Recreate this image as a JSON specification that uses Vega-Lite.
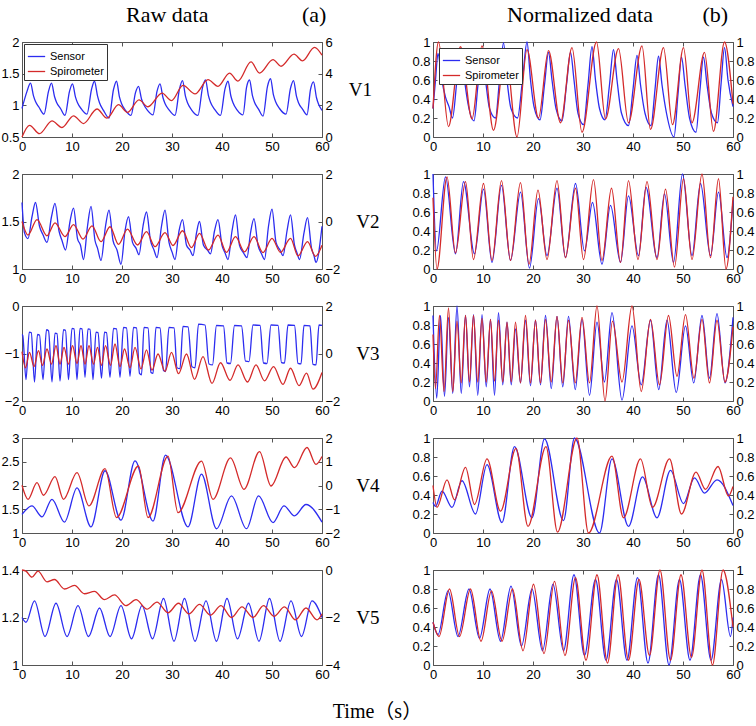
{
"$schema": "https://vega.github.io/schema/vega-lite/v6.json",
"background": "white",
"padding": {"left": 0, "top": 3, "right": 0, "bottom": 0},
"title": {"text": "Time（s）", "orient": "bottom", "anchor": "middle", "fontSize": 20, "offset": 20, "font": "Liberation Serif, Noto Sans CJK SC"},
"datasets": {
"a1S": [{"t":0,"v":0.95},{"t":1,"v":1.22},{"t":1.7,"v":1.35},{"t":2.3,"v":1.15},{"t":2.7,"v":1.06},{"t":3.4,"v":0.97},{"t":4.4,"v":0.86},{"t":5.3,"v":1.22},{"t":5.9,"v":1.35},{"t":6.5,"v":1.14},{"t":6.9,"v":1.05},{"t":7.7,"v":0.95},{"t":8.6,"v":0.84},{"t":9.5,"v":1.22},{"t":10.1,"v":1.34},{"t":10.7,"v":1.13},{"t":11.1,"v":1.04},{"t":11.9,"v":0.94},{"t":13,"v":0.86},{"t":13.9,"v":1.25},{"t":14.5,"v":1.38},{"t":15.1,"v":1.15},{"t":15.5,"v":1.04},{"t":16.3,"v":0.92},{"t":17.4,"v":0.8},{"t":18.3,"v":1.25},{"t":18.9,"v":1.38},{"t":19.5,"v":1.13},{"t":19.9,"v":1.03},{"t":20.7,"v":0.92},{"t":21.8,"v":0.84},{"t":22.7,"v":1.2},{"t":23.3,"v":1.3},{"t":23.9,"v":1.1},{"t":24.3,"v":1.02},{"t":25.1,"v":0.92},{"t":26.2,"v":0.85},{"t":27,"v":1.22},{"t":27.6,"v":1.34},{"t":28.2,"v":1.12},{"t":28.6,"v":1.03},{"t":29.4,"v":0.93},{"t":30.6,"v":0.84},{"t":31.5,"v":1.26},{"t":32.1,"v":1.39},{"t":32.7,"v":1.14},{"t":33.1,"v":1.04},{"t":33.9,"v":0.93},{"t":35.2,"v":0.84},{"t":36.1,"v":1.28},{"t":36.7,"v":1.4},{"t":37.3,"v":1.15},{"t":37.7,"v":1.05},{"t":38.5,"v":0.94},{"t":39.7,"v":0.84},{"t":40.6,"v":1.26},{"t":41.2,"v":1.38},{"t":41.8,"v":1.14},{"t":42.2,"v":1.04},{"t":43,"v":0.93},{"t":44.2,"v":0.85},{"t":44.9,"v":1.28},{"t":45.5,"v":1.4},{"t":46.1,"v":1.15},{"t":46.5,"v":1.05},{"t":47.3,"v":0.94},{"t":48.2,"v":0.83},{"t":49.1,"v":1.3},{"t":49.7,"v":1.42},{"t":50.3,"v":1.16},{"t":50.7,"v":1.06},{"t":51.5,"v":0.95},{"t":52.8,"v":0.86},{"t":53.7,"v":1.27},{"t":54.3,"v":1.39},{"t":54.9,"v":1.14},{"t":55.3,"v":1.04},{"t":56.1,"v":0.94},{"t":57,"v":0.85},{"t":57.7,"v":1.25},{"t":58.3,"v":1.37},{"t":58.9,"v":1.12},{"t":59.3,"v":1.02},{"t":60,"v":0.92}],
"a1R": [{"t":0,"v":0},{"t":1.5,"v":0.74},{"t":3.5,"v":0.21},{"t":6,"v":1.02},{"t":8,"v":0.6},{"t":10.3,"v":1.34},{"t":12.3,"v":0.85},{"t":15,"v":1.77},{"t":17,"v":1.19},{"t":19.3,"v":2.04},{"t":21.1,"v":1.55},{"t":23.4,"v":2.34},{"t":25.2,"v":1.91},{"t":28,"v":2.77},{"t":29.9,"v":2.3},{"t":32.2,"v":3.26},{"t":34.6,"v":2.72},{"t":37.2,"v":3.62},{"t":39.2,"v":3.2},{"t":41.5,"v":4.04},{"t":43.2,"v":3.53},{"t":45.8,"v":4.74},{"t":47.5,"v":4.04},{"t":50.2,"v":4.89},{"t":51.8,"v":4.47},{"t":54.4,"v":5.23},{"t":56.1,"v":4.81},{"t":58.5,"v":5.66},{"t":60,"v":5.17}],
"b1S": [{"t":0,"v":0.3},{"t":0.5,"v":0.6},{"t":1,"v":0.88},{"t":1.7,"v":0.62},{"t":2.5,"v":0.42},{"t":3.2,"v":0.32},{"t":3.9,"v":0.2},{"t":4.8,"v":0.6},{"t":5.6,"v":0.9},{"t":6.3,"v":0.6},{"t":7,"v":0.35},{"t":8.2,"v":0.17},{"t":9,"v":0.55},{"t":9.8,"v":0.88},{"t":10.5,"v":0.6},{"t":11.3,"v":0.3},{"t":12.5,"v":0.2},{"t":13.3,"v":0.6},{"t":14.1,"v":0.99},{"t":14.8,"v":0.6},{"t":15.6,"v":0.3},{"t":16.9,"v":0.2},{"t":17.9,"v":0.6},{"t":18.8,"v":1},{"t":19.5,"v":0.6},{"t":20.2,"v":0.32},{"t":21.4,"v":0.18},{"t":22.3,"v":0.55},{"t":23.1,"v":0.89},{"t":23.8,"v":0.6},{"t":24.6,"v":0.3},{"t":25.8,"v":0.17},{"t":26.7,"v":0.55},{"t":27.5,"v":0.89},{"t":28.2,"v":0.6},{"t":29,"v":0.25},{"t":30.1,"v":0.13},{"t":31,"v":0.55},{"t":31.8,"v":0.95},{"t":32.5,"v":0.6},{"t":33.3,"v":0.3},{"t":34.4,"v":0.18},{"t":35.3,"v":0.55},{"t":36.1,"v":0.92},{"t":36.8,"v":0.6},{"t":37.7,"v":0.25},{"t":39.1,"v":0.12},{"t":40,"v":0.5},{"t":40.8,"v":0.86},{"t":41.5,"v":0.55},{"t":42.4,"v":0.25},{"t":43.6,"v":0.12},{"t":44.4,"v":0.5},{"t":45.1,"v":0.85},{"t":45.8,"v":0.55},{"t":46.7,"v":0.25},{"t":48.2,"v":0},{"t":49,"v":0.45},{"t":49.7,"v":0.84},{"t":50.4,"v":0.55},{"t":51.3,"v":0.2},{"t":52.6,"v":0.05},{"t":53.4,"v":0.5},{"t":54.1,"v":0.84},{"t":54.8,"v":0.55},{"t":55.7,"v":0.25},{"t":56.9,"v":0.15},{"t":57.6,"v":0.55},{"t":58.3,"v":0.94},{"t":59,"v":0.6},{"t":60,"v":0.32}],
"b1R": [{"t":0,"v":0.3},{"t":1.1,"v":1},{"t":3.1,"v":0.11},{"t":5.5,"v":0.95},{"t":7.8,"v":0.19},{"t":9.8,"v":0.96},{"t":12.1,"v":0.07},{"t":14.5,"v":0.9},{"t":16.8,"v":0},{"t":18.8,"v":0.92},{"t":21.1,"v":0.2},{"t":23.1,"v":0.91},{"t":25.5,"v":0.15},{"t":27.8,"v":0.94},{"t":29.8,"v":0.05},{"t":32.7,"v":1},{"t":34.5,"v":0.19},{"t":37.1,"v":0.93},{"t":39.1,"v":0.15},{"t":41.8,"v":0.96},{"t":43.5,"v":0.08},{"t":46.1,"v":0.94},{"t":47.9,"v":0.13},{"t":50.1,"v":0.94},{"t":51.8,"v":0.15},{"t":54.3,"v":0.89},{"t":56.1,"v":0.06},{"t":58.3,"v":1},{"t":60,"v":0.35}],
"a2S": [{"t":0,"v":1.7},{"t":0.5,"v":1.38},{"t":1.2,"v":1.32},{"t":2,"v":1.55},{"t":2.7,"v":1.7},{"t":3.5,"v":1.45},{"t":4.2,"v":1.36},{"t":5,"v":1.28},{"t":5.9,"v":1.55},{"t":6.6,"v":1.69},{"t":7.4,"v":1.4},{"t":8,"v":1.3},{"t":8.7,"v":1.2},{"t":9.6,"v":1.5},{"t":10.3,"v":1.64},{"t":11.1,"v":1.32},{"t":11.7,"v":1.25},{"t":12.3,"v":1.1},{"t":13.1,"v":1.45},{"t":13.8,"v":1.66},{"t":14.6,"v":1.3},{"t":15.1,"v":1.22},{"t":15.8,"v":1.09},{"t":16.7,"v":1.45},{"t":17.4,"v":1.62},{"t":18.2,"v":1.3},{"t":19,"v":1.2},{"t":19.8,"v":1.05},{"t":20.6,"v":1.4},{"t":21.3,"v":1.55},{"t":22.1,"v":1.28},{"t":22.8,"v":1.22},{"t":23.4,"v":1.15},{"t":24.2,"v":1.45},{"t":24.9,"v":1.6},{"t":25.7,"v":1.3},{"t":26.4,"v":1.2},{"t":27,"v":1.12},{"t":27.9,"v":1.45},{"t":28.6,"v":1.62},{"t":29.4,"v":1.28},{"t":30,"v":1.18},{"t":30.6,"v":1.1},{"t":31.4,"v":1.4},{"t":32.1,"v":1.52},{"t":32.9,"v":1.25},{"t":33.6,"v":1.2},{"t":34.2,"v":1.14},{"t":34.9,"v":1.38},{"t":35.5,"v":1.5},{"t":36.3,"v":1.25},{"t":37.1,"v":1.2},{"t":37.7,"v":1.16},{"t":38.5,"v":1.4},{"t":39.2,"v":1.52},{"t":40,"v":1.25},{"t":40.6,"v":1.17},{"t":41.2,"v":1.1},{"t":42,"v":1.4},{"t":42.7,"v":1.57},{"t":43.5,"v":1.25},{"t":44.3,"v":1.17},{"t":45,"v":1.12},{"t":45.7,"v":1.38},{"t":46.4,"v":1.53},{"t":47.2,"v":1.25},{"t":47.9,"v":1.16},{"t":48.5,"v":1.1},{"t":49.3,"v":1.45},{"t":50,"v":1.63},{"t":50.8,"v":1.28},{"t":51.6,"v":1.2},{"t":52.2,"v":1.14},{"t":53,"v":1.4},{"t":53.7,"v":1.57},{"t":54.5,"v":1.25},{"t":55,"v":1.17},{"t":55.5,"v":1.1},{"t":56.4,"v":1.38},{"t":57.1,"v":1.54},{"t":57.9,"v":1.22},{"t":58.4,"v":1.14},{"t":58.8,"v":1.07},{"t":60,"v":1.45}],
"a2R": [{"t":0,"v":0},{"t":1.2,"v":-0.57},{"t":3,"v":0.08},{"t":5,"v":-0.6},{"t":6.6,"v":-0.06},{"t":8.6,"v":-0.64},{"t":10.3,"v":-0.13},{"t":12.2,"v":-0.74},{"t":14,"v":-0.18},{"t":15.8,"v":-0.85},{"t":17.6,"v":-0.22},{"t":19.3,"v":-0.96},{"t":21.1,"v":-0.32},{"t":23.1,"v":-0.99},{"t":24.9,"v":-0.43},{"t":26.6,"v":-1.06},{"t":28.6,"v":-0.47},{"t":30.2,"v":-1.01},{"t":32.1,"v":-0.39},{"t":33.9,"v":-1.1},{"t":35.5,"v":-0.5},{"t":37.3,"v":-1.2},{"t":39.2,"v":-0.57},{"t":40.9,"v":-1.3},{"t":42.7,"v":-0.64},{"t":44.5,"v":-1.28},{"t":46.4,"v":-0.64},{"t":48.2,"v":-1.31},{"t":50,"v":-0.71},{"t":51.7,"v":-1.3},{"t":53.7,"v":-0.71},{"t":55.2,"v":-1.45},{"t":57.1,"v":-0.85},{"t":58.7,"v":-1.47},{"t":60,"v":-1}],
"b2S": [{"t":0,"v":1},{"t":0.7,"v":0.19},{"t":2.5,"v":0.97},{"t":4.5,"v":0.16},{"t":6.1,"v":0.92},{"t":8.3,"v":0.16},{"t":10.1,"v":0.84},{"t":11.8,"v":0.07},{"t":13.7,"v":0.88},{"t":15.5,"v":0.09},{"t":17.5,"v":0.81},{"t":19.3,"v":0.01},{"t":21.1,"v":0.74},{"t":22.8,"v":0.14},{"t":24.8,"v":0.85},{"t":26.5,"v":0.12},{"t":28.5,"v":0.9},{"t":30.3,"v":0.19},{"t":31.9,"v":0.7},{"t":33.8,"v":0.05},{"t":35.5,"v":0.67},{"t":37.5,"v":0.07},{"t":39.1,"v":0.77},{"t":41.1,"v":0.14},{"t":42.6,"v":0.86},{"t":44.8,"v":0.12},{"t":46.3,"v":0.79},{"t":48.1,"v":0.07},{"t":49.9,"v":1},{"t":51.8,"v":0.14},{"t":53.5,"v":0.9},{"t":55.5,"v":0.14},{"t":57.1,"v":0.81},{"t":58.8,"v":0.12},{"t":60,"v":0.72}],
"b2R": [{"t":0,"v":0.75},{"t":0.8,"v":0},{"t":2.8,"v":0.97},{"t":4.5,"v":0.17},{"t":6.5,"v":0.92},{"t":8.1,"v":0.1},{"t":10.1,"v":0.9},{"t":11.8,"v":0.09},{"t":13.7,"v":0.93},{"t":15.5,"v":0.09},{"t":17.5,"v":0.91},{"t":19.2,"v":0.05},{"t":21,"v":0.83},{"t":22.8,"v":0.1},{"t":24.8,"v":0.93},{"t":26.5,"v":0.12},{"t":28.5,"v":0.85},{"t":30.1,"v":0.1},{"t":32.1,"v":0.94},{"t":33.8,"v":0.09},{"t":35.7,"v":0.85},{"t":37.5,"v":0.07},{"t":39.1,"v":0.93},{"t":41,"v":0.1},{"t":42.8,"v":0.92},{"t":44.8,"v":0.1},{"t":46.5,"v":0.84},{"t":48.3,"v":0.02},{"t":50.1,"v":0.95},{"t":51.8,"v":0.1},{"t":53.8,"v":1},{"t":55.5,"v":0.12},{"t":57.1,"v":0.95},{"t":58.6,"v":0},{"t":60,"v":0.76}],
"a3S": [{"t":0,"v":-0.6},{"t":0.15,"v":-0.62},{"t":0.8,"v":-1.55},{"t":1.45,"v":-0.55},{"t":1.85,"v":-0.56},{"t":2.5,"v":-1.6},{"t":3.1,"v":-0.6},{"t":3.5,"v":-0.61},{"t":4.2,"v":-1.55},{"t":4.9,"v":-0.5},{"t":5.3,"v":-0.52},{"t":6,"v":-1.6},{"t":6.6,"v":-0.57},{"t":7,"v":-0.58},{"t":7.6,"v":-1.58},{"t":8.3,"v":-0.5},{"t":8.7,"v":-0.51},{"t":9.3,"v":-1.55},{"t":10,"v":-0.47},{"t":10.4,"v":-0.48},{"t":11,"v":-1.55},{"t":11.6,"v":-0.47},{"t":12,"v":-0.48},{"t":12.6,"v":-1.5},{"t":13.2,"v":-0.48},{"t":13.6,"v":-0.49},{"t":14.2,"v":-1.55},{"t":14.8,"v":-0.55},{"t":15.2,"v":-0.56},{"t":15.9,"v":-1.52},{"t":16.5,"v":-0.55},{"t":16.9,"v":-0.56},{"t":17.6,"v":-1.5},{"t":18.3,"v":-0.47},{"t":18.9,"v":-0.48},{"t":19.6,"v":-1.5},{"t":20.3,"v":-0.45},{"t":20.9,"v":-0.46},{"t":21.6,"v":-1.48},{"t":22.3,"v":-0.45},{"t":22.9,"v":-0.46},{"t":23.5,"v":-1.42},{"t":23.9,"v":-1.45},{"t":24.4,"v":-0.45},{"t":25.2,"v":-0.46},{"t":25.8,"v":-1.4},{"t":26.2,"v":-1.42},{"t":26.8,"v":-0.45},{"t":27.6,"v":-0.46},{"t":28.3,"v":-1.36},{"t":28.7,"v":-1.38},{"t":29.4,"v":-0.45},{"t":30.4,"v":-0.46},{"t":31,"v":-1.3},{"t":31.6,"v":-1.32},{"t":32.2,"v":-0.43},{"t":33.2,"v":-0.44},{"t":34,"v":-1.28},{"t":34.6,"v":-1.3},{"t":35.3,"v":-0.38},{"t":36.6,"v":-0.4},{"t":37.4,"v":-1.22},{"t":38.1,"v":-1.24},{"t":38.9,"v":-0.41},{"t":40.3,"v":-0.42},{"t":41,"v":-1.2},{"t":41.7,"v":-1.21},{"t":42.5,"v":-0.41},{"t":43.9,"v":-0.42},{"t":44.7,"v":-1.16},{"t":45.4,"v":-1.17},{"t":46.2,"v":-0.4},{"t":47.6,"v":-0.41},{"t":48.3,"v":-1.2},{"t":49,"v":-1.21},{"t":49.8,"v":-0.4},{"t":51.2,"v":-0.41},{"t":51.9,"v":-1.19},{"t":52.5,"v":-1.2},{"t":53.2,"v":-0.4},{"t":54.5,"v":-0.41},{"t":55.2,"v":-1.21},{"t":55.8,"v":-1.22},{"t":56.4,"v":-0.41},{"t":57.6,"v":-0.42},{"t":58.2,"v":-1.23},{"t":58.8,"v":-1.24},{"t":59.4,"v":-0.4},{"t":60,"v":-0.41}],
"a3R": [{"t":0,"v":0.08},{"t":0.7,"v":-0.6},{"t":1.5,"v":0.05},{"t":2.4,"v":-0.55},{"t":3.3,"v":0.12},{"t":4.1,"v":-0.5},{"t":5,"v":0.19},{"t":5.9,"v":-0.45},{"t":6.8,"v":0.33},{"t":7.6,"v":-0.45},{"t":8.4,"v":0.26},{"t":9.3,"v":-0.45},{"t":10.1,"v":0.33},{"t":11,"v":-0.42},{"t":11.8,"v":0.33},{"t":12.6,"v":-0.45},{"t":13.4,"v":0.33},{"t":14.3,"v":-0.45},{"t":15.1,"v":0.26},{"t":15.9,"v":-0.5},{"t":16.7,"v":0.33},{"t":17.7,"v":-0.5},{"t":18.6,"v":0.4},{"t":19.6,"v":-0.55},{"t":20.5,"v":0.19},{"t":21.6,"v":-0.6},{"t":22.6,"v":0.26},{"t":23.8,"v":-0.65},{"t":24.9,"v":0.15},{"t":26,"v":-0.7},{"t":27.2,"v":-0.02},{"t":28.6,"v":-0.75},{"t":29.9,"v":0.05},{"t":31.3,"v":-0.85},{"t":32.9,"v":-0.02},{"t":34.5,"v":-1.09},{"t":36.2,"v":-0.13},{"t":38,"v":-1.26},{"t":39.7,"v":-0.39},{"t":41.6,"v":-1.13},{"t":43.2,"v":-0.48},{"t":45.1,"v":-1.2},{"t":46.8,"v":-0.48},{"t":48.5,"v":-1.15},{"t":50.3,"v":-0.55},{"t":52.2,"v":-1.3},{"t":53.7,"v":-0.62},{"t":55.4,"v":-1.35},{"t":56.9,"v":-0.83},{"t":58.2,"v":-1.5},{"t":60,"v":-0.8}],
"b3S": [{"t":0,"v":0.9},{"t":0.75,"v":0.03},{"t":1.5,"v":0.9},{"t":2.3,"v":0.05},{"t":3.1,"v":0.88},{"t":3.95,"v":0.08},{"t":4.8,"v":1},{"t":5.65,"v":0.08},{"t":6.5,"v":0.9},{"t":7.3,"v":0.15},{"t":8.1,"v":0.91},{"t":8.95,"v":0.06},{"t":9.8,"v":0.91},{"t":10.65,"v":0.15},{"t":11.5,"v":0.86},{"t":12.3,"v":0.06},{"t":13.1,"v":0.93},{"t":13.95,"v":0.17},{"t":14.8,"v":0.83},{"t":15.65,"v":0.17},{"t":16.5,"v":0.76},{"t":17.5,"v":0.19},{"t":18.5,"v":0.85},{"t":19.5,"v":0.16},{"t":20.5,"v":0.85},{"t":21.5,"v":0.17},{"t":22.5,"v":0.9},{"t":23.65,"v":0.13},{"t":24.8,"v":0.89},{"t":25.95,"v":0.15},{"t":27.1,"v":0.89},{"t":28.45,"v":0.12},{"t":29.8,"v":0.86},{"t":31.3,"v":0.06},{"t":32.8,"v":0.83},{"t":34.3,"v":0.2},{"t":35.8,"v":0.93},{"t":37.8,"v":0.01},{"t":39.8,"v":0.79},{"t":41.65,"v":0.17},{"t":43.5,"v":0.85},{"t":45.15,"v":0.12},{"t":46.8,"v":0.85},{"t":48.65,"v":0.09},{"t":50.5,"v":0.79},{"t":52.15,"v":0.19},{"t":53.8,"v":0.9},{"t":55.3,"v":0.24},{"t":56.8,"v":0.92},{"t":58.4,"v":0.19},{"t":60,"v":0.88}],
"b3R": [{"t":0,"v":0.7},{"t":0.5,"v":0.13},{"t":1.3,"v":0.9},{"t":2.2,"v":0.1},{"t":3.1,"v":0.98},{"t":3.95,"v":0.1},{"t":4.8,"v":0.84},{"t":5.65,"v":0.19},{"t":6.5,"v":0.9},{"t":7.3,"v":0.2},{"t":8.1,"v":0.9},{"t":8.95,"v":0.2},{"t":9.8,"v":0.87},{"t":10.65,"v":0.2},{"t":11.5,"v":0.86},{"t":12.3,"v":0.21},{"t":13.1,"v":0.85},{"t":13.95,"v":0.2},{"t":14.8,"v":0.83},{"t":15.65,"v":0.2},{"t":16.5,"v":0.83},{"t":17.5,"v":0.19},{"t":18.5,"v":0.9},{"t":19.5,"v":0.19},{"t":20.5,"v":0.85},{"t":21.5,"v":0.19},{"t":22.5,"v":0.86},{"t":23.65,"v":0.2},{"t":24.8,"v":0.89},{"t":25.95,"v":0.19},{"t":27.1,"v":0.85},{"t":28.45,"v":0.19},{"t":29.8,"v":0.88},{"t":31.3,"v":0.19},{"t":32.8,"v":1},{"t":34.4,"v":0},{"t":35.9,"v":0.84},{"t":37.8,"v":0.2},{"t":39.8,"v":1},{"t":41.65,"v":0.1},{"t":43.5,"v":0.86},{"t":45.3,"v":0.17},{"t":47.1,"v":0.9},{"t":48.8,"v":0.26},{"t":50.5,"v":0.91},{"t":52.2,"v":0.24},{"t":53.8,"v":0.86},{"t":55.3,"v":0.19},{"t":56.8,"v":0.85},{"t":58.4,"v":0.2},{"t":60,"v":0.78}],
"a4S": [{"t":0,"v":1.39},{"t":2,"v":1.57},{"t":4,"v":1.34},{"t":6,"v":1.71},{"t":8.5,"v":1.23},{"t":11,"v":1.95},{"t":13.8,"v":1.13},{"t":16.6,"v":2.31},{"t":19.8,"v":1.27},{"t":22.6,"v":2.52},{"t":26.2,"v":1.25},{"t":28.7,"v":2.64},{"t":33.2,"v":1.13},{"t":35.9,"v":2.24},{"t":38.9,"v":1.09},{"t":41.9,"v":1.78},{"t":44.9,"v":1.09},{"t":47.3,"v":1.78},{"t":50.2,"v":1.22},{"t":52.4,"v":1.57},{"t":54.5,"v":1.36},{"t":56.8,"v":1.6},{"t":60,"v":1.23}],
"a4R": [{"t":0,"v":0.01},{"t":1.2,"v":-0.58},{"t":3,"v":0.12},{"t":4.3,"v":-0.41},{"t":6.6,"v":0.37},{"t":8.3,"v":-0.58},{"t":11,"v":0.54},{"t":13.4,"v":-0.86},{"t":16.6,"v":0.71},{"t":18.9,"v":-1.35},{"t":23.3,"v":0.82},{"t":25.2,"v":-1.35},{"t":29.2,"v":1.24},{"t":31.2,"v":-1.14},{"t":35.9,"v":1.03},{"t":38.2,"v":-0.58},{"t":41.7,"v":1.16},{"t":44.4,"v":-0.16},{"t":47.5,"v":1.43},{"t":49.8,"v":-0.02},{"t":52.8,"v":1.2},{"t":54.5,"v":0.75},{"t":57,"v":1.6},{"t":58.8,"v":0.89},{"t":60,"v":1.22}],
"b4S": [{"t":0,"v":0.32},{"t":0.5,"v":0.28},{"t":1.8,"v":0.44},{"t":3.8,"v":0.27},{"t":5.8,"v":0.55},{"t":8.5,"v":0.2},{"t":10.8,"v":0.72},{"t":13.8,"v":0.11},{"t":16.3,"v":0.91},{"t":19.8,"v":0.16},{"t":22.3,"v":0.99},{"t":26.1,"v":0.13},{"t":28.3,"v":1},{"t":33.3,"v":0},{"t":35.8,"v":0.78},{"t":39.1,"v":0.07},{"t":41.9,"v":0.59},{"t":44.8,"v":0.16},{"t":47.5,"v":0.66},{"t":50.1,"v":0.31},{"t":52.3,"v":0.58},{"t":54.3,"v":0.42},{"t":56.8,"v":0.56},{"t":60,"v":0.29}],
"b4R": [{"t":0,"v":0.5},{"t":0.8,"v":0.27},{"t":2.8,"v":0.56},{"t":4.3,"v":0.35},{"t":6.5,"v":0.69},{"t":8.3,"v":0.3},{"t":10.8,"v":0.78},{"t":13.5,"v":0.23},{"t":16.6,"v":0.89},{"t":19,"v":0.07},{"t":22.6,"v":0.91},{"t":24.9,"v":0.01},{"t":28.8,"v":1},{"t":31.1,"v":0},{"t":35.8,"v":0.81},{"t":38.1,"v":0.16},{"t":41.5,"v":0.78},{"t":43.9,"v":0.27},{"t":47.3,"v":0.78},{"t":49.7,"v":0.2},{"t":52.6,"v":0.64},{"t":54.5,"v":0.46},{"t":57,"v":0.7},{"t":59.1,"v":0.39},{"t":60,"v":0.49}],
"a5S": [{"t":0,"v":1.2},{"t":0.8,"v":1.18},{"t":2.5,"v":1.27},{"t":4.6,"v":1.12},{"t":6.8,"v":1.26},{"t":9,"v":1.12},{"t":11.2,"v":1.25},{"t":13.3,"v":1.12},{"t":15.5,"v":1.24},{"t":17.6,"v":1.12},{"t":19.8,"v":1.25},{"t":21.9,"v":1.11},{"t":24,"v":1.25},{"t":26.1,"v":1.11},{"t":28.3,"v":1.28},{"t":30.4,"v":1.1},{"t":32.5,"v":1.28},{"t":34.6,"v":1.1},{"t":36.8,"v":1.27},{"t":38.9,"v":1.1},{"t":41,"v":1.28},{"t":43.1,"v":1.11},{"t":45.3,"v":1.26},{"t":47.4,"v":1.1},{"t":49.5,"v":1.28},{"t":51.6,"v":1.1},{"t":53.8,"v":1.27},{"t":55.9,"v":1.12},{"t":58,"v":1.27},{"t":60,"v":1.2}],
"a5R": [{"t":0,"v":0},{"t":0.8,"v":-0.05},{"t":2,"v":-0.3},{"t":3.2,"v":-0.05},{"t":5,"v":-0.5},{"t":6.5,"v":-0.4},{"t":8.5,"v":-0.8},{"t":10.5,"v":-0.65},{"t":12.5,"v":-1},{"t":14.5,"v":-0.9},{"t":16.5,"v":-1.25},{"t":18.5,"v":-1.05},{"t":20.8,"v":-1.5},{"t":22.8,"v":-1.25},{"t":25,"v":-1.65},{"t":27,"v":-1.35},{"t":29.2,"v":-1.8},{"t":31.3,"v":-1.4},{"t":33.4,"v":-1.85},{"t":35.5,"v":-1.45},{"t":37.7,"v":-1.9},{"t":39.8,"v":-1.5},{"t":41.9,"v":-2},{"t":44,"v":-1.55},{"t":46.2,"v":-2},{"t":48.3,"v":-1.5},{"t":50.4,"v":-1.95},{"t":52.5,"v":-1.55},{"t":54.7,"v":-2.1},{"t":56.8,"v":-1.6},{"t":59,"v":-2.1},{"t":60,"v":-1.85}],
"b5S": [{"t":0,"v":0.45},{"t":1,"v":0.32},{"t":3,"v":0.78},{"t":5,"v":0.3},{"t":7.2,"v":0.8},{"t":9.3,"v":0.28},{"t":11.4,"v":0.8},{"t":13.5,"v":0.25},{"t":15.6,"v":0.83},{"t":17.7,"v":0.2},{"t":19.8,"v":0.8},{"t":21.9,"v":0.15},{"t":24,"v":0.85},{"t":26.1,"v":0.15},{"t":28.2,"v":0.95},{"t":30.3,"v":0.1},{"t":32.5,"v":0.9},{"t":34.6,"v":0.05},{"t":36.7,"v":0.9},{"t":38.8,"v":0.05},{"t":40.9,"v":0.92},{"t":43,"v":0.02},{"t":45.1,"v":0.95},{"t":47.2,"v":0},{"t":49.3,"v":0.9},{"t":51.4,"v":0.05},{"t":53.5,"v":0.95},{"t":55.6,"v":0.05},{"t":57.7,"v":0.9},{"t":59.5,"v":0.3},{"t":60,"v":0.5}],
"b5R": [{"t":0,"v":0.45},{"t":1.2,"v":0.3},{"t":3.3,"v":0.8},{"t":5.3,"v":0.3},{"t":7.5,"v":0.8},{"t":9.6,"v":0.25},{"t":11.7,"v":0.78},{"t":13.8,"v":0.25},{"t":15.9,"v":0.8},{"t":18,"v":0.15},{"t":20.1,"v":0.85},{"t":22.2,"v":0.12},{"t":24.3,"v":0.88},{"t":26.4,"v":0.1},{"t":28.5,"v":0.92},{"t":30.6,"v":0.05},{"t":32.8,"v":0.95},{"t":34.9,"v":0.02},{"t":37,"v":0.95},{"t":39.1,"v":0.05},{"t":41.2,"v":0.9},{"t":43.3,"v":0.1},{"t":45.4,"v":1},{"t":47.5,"v":0.05},{"t":49.6,"v":0.95},{"t":51.7,"v":0.08},{"t":53.8,"v":1},{"t":55.9,"v":0},{"t":58,"v":1},{"t":60,"v":0.4}]
},
"columns": 2,
"bounds": "flush",
"spacing": {"row": 37, "column": 111},
"concat": [
{"width":300,"height":95,"title":{"text":"Raw data\u00a0\u00a0\u00a0\u00a0\u00a0\u00a0\u00a0\u00a0\u00a0\u00a0\u00a0\u00a0\u00a0\u00a0\u00a0\u00a0\u00a0(a)","anchor":"start","frame":"group","dx":104,"offset":9},"layer":[
{"data":{"name":"a1S"},"mark":"line","encoding":{"x":{"field":"t","type":"quantitative","scale":{"domain":[0,60],"nice":false},"axis":{"values":[0,10,20,30,40,50,60],"title":null}},"y":{"field":"v","type":"quantitative","scale":{"domain":[0.5,2],"nice":false},"axis":{"values":[0.5,1,1.5,2],"title":null}},"color":{"datum":"Sensor","scale":{"domain":["Sensor","Spirometer"],"range":["#2c2cf0","#d42a2a"]},"legend":{"orient":"top-left","offset":2}}}},
{"data":{"name":"a1R"},"mark":"line","encoding":{"x":{"field":"t","type":"quantitative","scale":{"domain":[0,60],"nice":false},"axis":{"orient":"top","labels":false,"values":[0,10,20,30,40,50,60],"title":null}},"y":{"field":"v","type":"quantitative","scale":{"domain":[0,6],"nice":false},"axis":{"orient":"right","values":[0,2,4,6],"title":"V1"}},"color":{"datum":"Spirometer","legend":{"orient":"top-left","offset":2}}}}
],"resolve":{"scale":{"y":"independent"},"axis":{"x":"independent"}}},
{"width":300,"height":95,"title":{"text":"Normalized data\u00a0\u00a0\u00a0\u00a0\u00a0\u00a0\u00a0\u00a0\u00a0(b)","anchor":"start","frame":"group","dx":74,"offset":9},"layer":[
{"data":{"name":"b1S"},"mark":"line","encoding":{"x":{"field":"t","type":"quantitative","scale":{"domain":[0,60],"nice":false},"axis":{"values":[0,10,20,30,40,50,60],"title":null}},"y":{"field":"v","type":"quantitative","scale":{"domain":[0,1],"nice":false},"axis":{"values":[0,0.2,0.4,0.6,0.8,1],"title":null}},"color":{"datum":"Sensor","scale":{"domain":["Sensor","Spirometer"],"range":["#2c2cf0","#d42a2a"]},"legend":{"orient":"top-left","offset":6}}}},
{"data":{"name":"b1R"},"mark":"line","encoding":{"x":{"field":"t","type":"quantitative","scale":{"domain":[0,60],"nice":false},"axis":{"orient":"top","labels":false,"values":[0,10,20,30,40,50,60],"title":null}},"y":{"field":"v","type":"quantitative","scale":{"domain":[0,1],"nice":false},"axis":{"orient":"right","values":[0,0.2,0.4,0.6,0.8,1],"title":null}},"color":{"datum":"Spirometer","legend":{"orient":"top-left","offset":6}}}}
],"resolve":{"scale":{"y":"independent"},"axis":{"x":"independent"}}},
{"width":300,"height":95,"layer":[
{"data":{"name":"a2S"},"mark":"line","encoding":{"x":{"field":"t","type":"quantitative","scale":{"domain":[0,60],"nice":false},"axis":{"values":[0,10,20,30,40,50,60],"title":null}},"y":{"field":"v","type":"quantitative","scale":{"domain":[1,2],"nice":false},"axis":{"values":[1,1.5,2],"title":null}},"color":{"datum":"Sensor","scale":{"domain":["Sensor","Spirometer"],"range":["#2c2cf0","#d42a2a"]},"legend":null}}},
{"data":{"name":"a2R"},"mark":"line","encoding":{"x":{"field":"t","type":"quantitative","scale":{"domain":[0,60],"nice":false},"axis":{"orient":"top","labels":false,"values":[0,10,20,30,40,50,60],"title":null}},"y":{"field":"v","type":"quantitative","scale":{"domain":[-2,2],"nice":false},"axis":{"orient":"right","values":[-2,0,2],"title":"V2"}},"color":{"datum":"Spirometer","legend":null}}}
],"resolve":{"scale":{"y":"independent"},"axis":{"x":"independent"}}},
{"width":300,"height":95,"layer":[
{"data":{"name":"b2S"},"mark":"line","encoding":{"x":{"field":"t","type":"quantitative","scale":{"domain":[0,60],"nice":false},"axis":{"values":[0,10,20,30,40,50,60],"title":null}},"y":{"field":"v","type":"quantitative","scale":{"domain":[0,1],"nice":false},"axis":{"values":[0,0.2,0.4,0.6,0.8,1],"title":null}},"color":{"datum":"Sensor","scale":{"domain":["Sensor","Spirometer"],"range":["#2c2cf0","#d42a2a"]},"legend":null}}},
{"data":{"name":"b2R"},"mark":"line","encoding":{"x":{"field":"t","type":"quantitative","scale":{"domain":[0,60],"nice":false},"axis":{"orient":"top","labels":false,"values":[0,10,20,30,40,50,60],"title":null}},"y":{"field":"v","type":"quantitative","scale":{"domain":[0,1],"nice":false},"axis":{"orient":"right","values":[0,0.2,0.4,0.6,0.8,1],"title":null}},"color":{"datum":"Spirometer","legend":null}}}
],"resolve":{"scale":{"y":"independent"},"axis":{"x":"independent"}}},
{"width":300,"height":95,"layer":[
{"data":{"name":"a3S"},"mark":"line","encoding":{"x":{"field":"t","type":"quantitative","scale":{"domain":[0,60],"nice":false},"axis":{"values":[0,10,20,30,40,50,60],"title":null}},"y":{"field":"v","type":"quantitative","scale":{"domain":[-2,0],"nice":false},"axis":{"values":[-2,-1,0],"title":null}},"color":{"datum":"Sensor","scale":{"domain":["Sensor","Spirometer"],"range":["#2c2cf0","#d42a2a"]},"legend":null}}},
{"data":{"name":"a3R"},"mark":"line","encoding":{"x":{"field":"t","type":"quantitative","scale":{"domain":[0,60],"nice":false},"axis":{"orient":"top","labels":false,"values":[0,10,20,30,40,50,60],"title":null}},"y":{"field":"v","type":"quantitative","scale":{"domain":[-2,2],"nice":false},"axis":{"orient":"right","values":[-2,0,2],"title":"V3"}},"color":{"datum":"Spirometer","legend":null}}}
],"resolve":{"scale":{"y":"independent"},"axis":{"x":"independent"}}},
{"width":300,"height":95,"layer":[
{"data":{"name":"b3S"},"mark":"line","encoding":{"x":{"field":"t","type":"quantitative","scale":{"domain":[0,60],"nice":false},"axis":{"values":[0,10,20,30,40,50,60],"title":null}},"y":{"field":"v","type":"quantitative","scale":{"domain":[0,1],"nice":false},"axis":{"values":[0,0.2,0.4,0.6,0.8,1],"title":null}},"color":{"datum":"Sensor","scale":{"domain":["Sensor","Spirometer"],"range":["#2c2cf0","#d42a2a"]},"legend":null}}},
{"data":{"name":"b3R"},"mark":"line","encoding":{"x":{"field":"t","type":"quantitative","scale":{"domain":[0,60],"nice":false},"axis":{"orient":"top","labels":false,"values":[0,10,20,30,40,50,60],"title":null}},"y":{"field":"v","type":"quantitative","scale":{"domain":[0,1],"nice":false},"axis":{"orient":"right","values":[0,0.2,0.4,0.6,0.8,1],"title":null}},"color":{"datum":"Spirometer","legend":null}}}
],"resolve":{"scale":{"y":"independent"},"axis":{"x":"independent"}}},
{"width":300,"height":95,"layer":[
{"data":{"name":"a4S"},"mark":"line","encoding":{"x":{"field":"t","type":"quantitative","scale":{"domain":[0,60],"nice":false},"axis":{"values":[0,10,20,30,40,50,60],"title":null}},"y":{"field":"v","type":"quantitative","scale":{"domain":[1,3],"nice":false},"axis":{"values":[1,1.5,2,2.5,3],"title":null}},"color":{"datum":"Sensor","scale":{"domain":["Sensor","Spirometer"],"range":["#2c2cf0","#d42a2a"]},"legend":null}}},
{"data":{"name":"a4R"},"mark":"line","encoding":{"x":{"field":"t","type":"quantitative","scale":{"domain":[0,60],"nice":false},"axis":{"orient":"top","labels":false,"values":[0,10,20,30,40,50,60],"title":null}},"y":{"field":"v","type":"quantitative","scale":{"domain":[-2,2],"nice":false},"axis":{"orient":"right","values":[-2,-1,0,1,2],"title":"V4"}},"color":{"datum":"Spirometer","legend":null}}}
],"resolve":{"scale":{"y":"independent"},"axis":{"x":"independent"}}},
{"width":300,"height":95,"layer":[
{"data":{"name":"b4S"},"mark":"line","encoding":{"x":{"field":"t","type":"quantitative","scale":{"domain":[0,60],"nice":false},"axis":{"values":[0,10,20,30,40,50,60],"title":null}},"y":{"field":"v","type":"quantitative","scale":{"domain":[0,1],"nice":false},"axis":{"values":[0,0.2,0.4,0.6,0.8,1],"title":null}},"color":{"datum":"Sensor","scale":{"domain":["Sensor","Spirometer"],"range":["#2c2cf0","#d42a2a"]},"legend":null}}},
{"data":{"name":"b4R"},"mark":"line","encoding":{"x":{"field":"t","type":"quantitative","scale":{"domain":[0,60],"nice":false},"axis":{"orient":"top","labels":false,"values":[0,10,20,30,40,50,60],"title":null}},"y":{"field":"v","type":"quantitative","scale":{"domain":[0,1],"nice":false},"axis":{"orient":"right","values":[0,0.2,0.4,0.6,0.8,1],"title":null}},"color":{"datum":"Spirometer","legend":null}}}
],"resolve":{"scale":{"y":"independent"},"axis":{"x":"independent"}}},
{"width":300,"height":95,"layer":[
{"data":{"name":"a5S"},"mark":"line","encoding":{"x":{"field":"t","type":"quantitative","scale":{"domain":[0,60],"nice":false},"axis":{"values":[0,10,20,30,40,50,60],"title":null}},"y":{"field":"v","type":"quantitative","scale":{"domain":[1,1.4],"nice":false},"axis":{"values":[1,1.2,1.4],"title":null}},"color":{"datum":"Sensor","scale":{"domain":["Sensor","Spirometer"],"range":["#2c2cf0","#d42a2a"]},"legend":null}}},
{"data":{"name":"a5R"},"mark":"line","encoding":{"x":{"field":"t","type":"quantitative","scale":{"domain":[0,60],"nice":false},"axis":{"orient":"top","labels":false,"values":[0,10,20,30,40,50,60],"title":null}},"y":{"field":"v","type":"quantitative","scale":{"domain":[-4,0],"nice":false},"axis":{"orient":"right","values":[-4,-2,0],"title":"V5"}},"color":{"datum":"Spirometer","legend":null}}}
],"resolve":{"scale":{"y":"independent"},"axis":{"x":"independent"}}},
{"width":300,"height":95,"layer":[
{"data":{"name":"b5S"},"mark":"line","encoding":{"x":{"field":"t","type":"quantitative","scale":{"domain":[0,60],"nice":false},"axis":{"values":[0,10,20,30,40,50,60],"title":null}},"y":{"field":"v","type":"quantitative","scale":{"domain":[0,1],"nice":false},"axis":{"values":[0,0.2,0.4,0.6,0.8,1],"title":null}},"color":{"datum":"Sensor","scale":{"domain":["Sensor","Spirometer"],"range":["#2c2cf0","#d42a2a"]},"legend":null}}},
{"data":{"name":"b5R"},"mark":"line","encoding":{"x":{"field":"t","type":"quantitative","scale":{"domain":[0,60],"nice":false},"axis":{"orient":"top","labels":false,"values":[0,10,20,30,40,50,60],"title":null}},"y":{"field":"v","type":"quantitative","scale":{"domain":[0,1],"nice":false},"axis":{"orient":"right","values":[0,0.2,0.4,0.6,0.8,1],"title":null}},"color":{"datum":"Spirometer","legend":null}}}
],"resolve":{"scale":{"y":"independent"},"axis":{"x":"independent"}}}
],
"resolve": {"scale": {"color": "independent", "x": "independent", "y": "independent"}, "legend": {"color": "independent"}, "axis": {"x": "independent", "y": "independent"}},
"config": {
"view": {"stroke": "#555", "strokeWidth": 1},
"line": {"interpolate": "monotone", "strokeWidth": 1.3, "clip": true},
"axis": {"grid": false, "domain": false, "format": "~r", "labelFont": "Liberation Sans", "labelFontSize": 13, "labelColor": "#000", "tickColor": "#555", "tickSize": -4, "labelPadding": 7, "labelFlush": false, "labelOverlap": false},
"axisRight": {"titleAngle": 0, "titleFont": "Liberation Serif", "titleFontSize": 19, "titleFontWeight": "normal", "titleColor": "#000", "titleAlign": "left", "titleBaseline": "middle", "titlePadding": 16},
"title": {"font": "Liberation Serif", "fontSize": 22, "fontWeight": "normal", "color": "#000"},
"legend": {"title": null, "symbolType": "stroke", "fillColor": "white", "strokeColor": "#333", "padding": 3, "labelFont": "Liberation Sans", "labelFontSize": 11, "symbolSize": 300, "symbolStrokeWidth": 1.5, "rowPadding": 0, "labelColor": "#000"}
}
}
